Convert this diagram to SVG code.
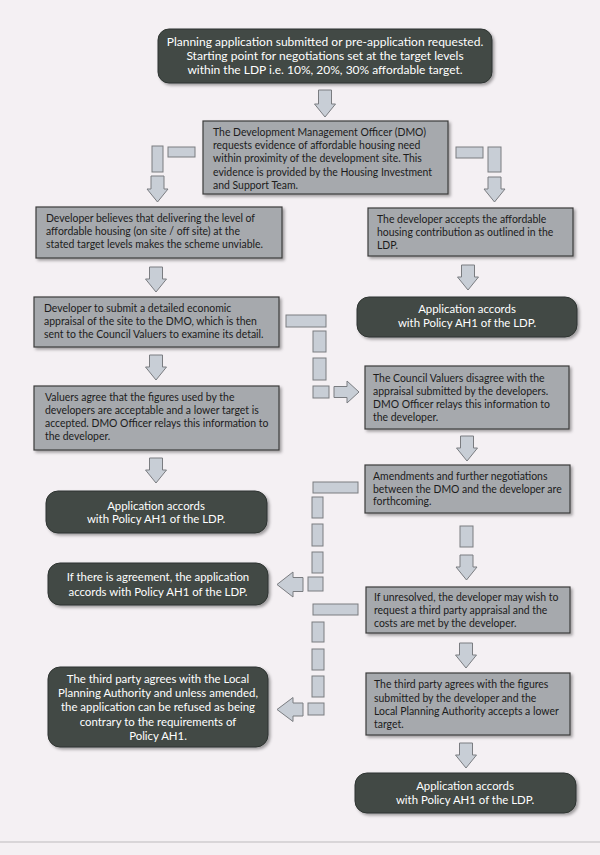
<svg xmlns="http://www.w3.org/2000/svg" width="600" height="855" viewBox="0 0 600 855">
<defs>
<filter id="sh" x="-10%" y="-10%" width="125%" height="130%"><feDropShadow dx="2" dy="2" stdDeviation="1.5" flood-color="#000" flood-opacity="0.35"/></filter>
<style>
.box{fill:#a6a9ad;stroke:#3c3c3c;stroke-width:1.2;filter:url(#sh)}
.dark{fill:#424945;stroke:#2e3431;stroke-width:1;filter:url(#sh)}
.c{fill:#c8ced6;stroke:#7a7c80;stroke-width:1}
text{font-family:Lato,"Liberation Sans",sans-serif}
.t{fill:#1c1c1c;font-size:10.45px}
.w{fill:#ffffff;text-anchor:middle;font-size:11.4px}
.big{font-size:12px}
</style>
</defs>
<rect width="600" height="855" fill="#f4f0f3"/>
<line x1="0" y1="842" x2="600" y2="842" stroke="#bdbabd" stroke-width="1"/>

<g id="connectors">
<path class="c" d="M318.5,90 H331.5 V104 H335.5 L325,117 L314.5,104 H318.5 Z"/>
<rect class="c" x="168" y="147" width="27" height="10"/>
<rect class="c" x="152" y="146" width="11" height="26"/>
<path class="c" d="M151,176 H164 V189 H168 L157.5,202 L147,189 H151 Z"/>
<rect class="c" x="456" y="147" width="27" height="11"/>
<rect class="c" x="488" y="147" width="13" height="25"/>
<path class="c" d="M488,177 H501 V189 H505 L494.5,202 L484,189 H488 Z"/>
<path class="c" d="M149.5,267 H162.5 V279 H166.5 L156,292 L145.5,279 H149.5 Z"/>
<path class="c" d="M149.5,355 H162.5 V367 H166.5 L156,380 L145.5,367 H149.5 Z"/>
<path class="c" d="M149.5,458 H162.5 V470 H166.5 L156,483 L145.5,470 H149.5 Z"/>
<path class="c" d="M461.5,265 H474.5 V277 H478.5 L468,290 L457.5,277 H461.5 Z"/>
<rect class="c" x="286" y="315" width="40" height="12"/>
<rect class="c" x="313" y="331" width="13" height="21"/>
<rect class="c" x="313" y="358" width="13" height="22"/>
<rect class="c" x="313" y="386" width="16" height="12"/>
<path class="c" d="M334,386.5 H347 V381 L359,392 L347,403 V397.5 H334 Z"/>
<path class="c" d="M460.5,436 H473.5 V448 H477.5 L467,461 L456.5,448 H460.5 Z"/>
<rect class="c" x="313" y="482" width="45" height="11"/>
<rect class="c" x="312" y="497" width="11" height="21"/>
<rect class="c" x="312" y="524" width="11" height="22"/>
<rect class="c" x="312" y="552" width="11" height="21"/>
<rect class="c" x="308" y="577" width="15" height="14"/>
<path class="c" d="M303,577.5 H293 V572 L277,584.5 L293,597 V591.5 H303 Z"/>
<rect class="c" x="460" y="526" width="13" height="21"/>
<path class="c" d="M460,555 H473 V567 H477 L466.5,580 L456,567 H460 Z"/>
<rect class="c" x="313" y="604" width="45" height="11"/>
<rect class="c" x="312" y="622" width="12" height="20"/>
<rect class="c" x="312" y="649" width="12" height="21"/>
<rect class="c" x="312" y="676" width="12" height="21"/>
<rect class="c" x="308" y="703" width="16" height="12"/>
<path class="c" d="M303,703 H293 V697.5 L277,709.5 L293,721.5 V716 H303 Z"/>
<path class="c" d="M459.5,643 H472.5 V655 H476.5 L466,668 L455.5,655 H459.5 Z"/>
<path class="c" d="M459.5,743 H472.5 V755 H476.5 L466,768 L455.5,755 H459.5 Z"/>
</g>

<g id="start">
<rect class="dark" x="158" y="29" width="334" height="54" rx="11"/>
<text class="w big" x="325" y="46">Planning application submitted or pre-application requested.</text>
<text class="w big" x="325" y="60">Starting point for negotiations set at the target levels</text>
<text class="w big" x="325" y="74">within the LDP i.e. 10%, 20%, 30% affordable target.</text>
</g>

<g id="dmo">
<rect class="box" x="203" y="121" width="245" height="73"/>
<text class="t" x="213" y="136">The Development Management Officer (DMO)</text>
<text class="t" x="213" y="149">requests evidence of affordable housing need</text>
<text class="t" x="213" y="162">within proximity of the development site. This</text>
<text class="t" x="213" y="176">evidence is provided by the Housing Investment</text>
<text class="t" x="213" y="189">and Support Team.</text>
</g>

<g id="unviable">
<rect class="box" x="36" y="207" width="246" height="51"/>
<text class="t" x="46" y="222">Developer believes that delivering the level of</text>
<text class="t" x="46" y="235">affordable housing (on site / off site) at the</text>
<text class="t" x="46" y="248">stated target levels makes the scheme unviable.</text>
</g>

<g id="accepts">
<rect class="box" x="368" y="208" width="205" height="48"/>
<text class="t" x="377" y="223">The developer accepts the affordable</text>
<text class="t" x="377" y="236">housing contribution as outlined in the</text>
<text class="t" x="377" y="249">LDP.</text>
</g>

<g id="accords1">
<rect class="dark" x="357" y="297" width="220" height="40" rx="12"/>
<text class="w" x="467" y="313">Application accords</text>
<text class="w" x="467" y="327">with Policy AH1 of the LDP.</text>
</g>

<g id="appraisal">
<rect class="box" x="34" y="297" width="245" height="50"/>
<text class="t" x="44" y="312">Developer to submit a detailed economic</text>
<text class="t" x="44" y="325">appraisal of the site to the DMO, which is then</text>
<text class="t" x="44" y="338">sent to the Council Valuers to examine its detail.</text>
</g>

<g id="valuersagree">
<rect class="box" x="34" y="386" width="245" height="64"/>
<text class="t" x="45" y="401">Valuers agree that the figures used by the</text>
<text class="t" x="45" y="414">developers are acceptable and a lower target is</text>
<text class="t" x="45" y="427">accepted. DMO Officer relays this information to</text>
<text class="t" x="45" y="440">the developer.</text>
</g>

<g id="disagree">
<rect class="box" x="365" y="366" width="204" height="63"/>
<text class="t" x="373" y="382">The Council Valuers disagree with the</text>
<text class="t" x="373" y="395">appraisal submitted by the developers.</text>
<text class="t" x="373" y="408">DMO Officer relays this information to</text>
<text class="t" x="373" y="421">the developer.</text>
</g>

<g id="accords2">
<rect class="dark" x="46" y="491" width="221" height="42" rx="12"/>
<text class="w" x="156" y="510">Application accords</text>
<text class="w" x="156" y="523">with Policy AH1 of the LDP.</text>
</g>

<g id="amendments">
<rect class="box" x="365" y="465" width="205" height="48"/>
<text class="t" x="373" y="480">Amendments and further negotiations</text>
<text class="t" x="373" y="493">between the DMO and the developer are</text>
<text class="t" x="373" y="505">forthcoming.</text>
</g>

<g id="agreement">
<rect class="dark" x="48" y="563" width="220" height="42" rx="12"/>
<text class="w" x="158" y="581">If there is agreement, the application</text>
<text class="w" x="158" y="596">accords with Policy AH1 of the LDP.</text>
</g>

<g id="unresolved">
<rect class="box" x="366" y="587" width="204" height="46"/>
<text class="t" x="374" y="601">If unresolved, the developer may wish to</text>
<text class="t" x="374" y="614">request a third party appraisal and the</text>
<text class="t" x="374" y="627">costs are met by the developer.</text>
</g>

<g id="refused">
<rect class="dark" x="48" y="667" width="220" height="80" rx="12"/>
<text class="w" x="158" y="683">The third party agrees with the Local</text>
<text class="w" x="158" y="697">Planning Authority and unless amended,</text>
<text class="w" x="158" y="711">the application can be refused as being</text>
<text class="w" x="158" y="726">contrary to the requirements of</text>
<text class="w" x="158" y="740">Policy AH1.</text>
</g>

<g id="lowertarget">
<rect class="box" x="366" y="673" width="204" height="62"/>
<text class="t" x="374" y="688">The third party agrees with the figures</text>
<text class="t" x="374" y="702">submitted by the developer and the</text>
<text class="t" x="374" y="715">Local Planning Authority accepts a lower</text>
<text class="t" x="374" y="728">target.</text>
</g>

<g id="accords3">
<rect class="dark" x="355" y="773" width="221" height="40" rx="12"/>
<text class="w" x="465" y="790">Application accords</text>
<text class="w" x="465" y="804">with Policy AH1 of the LDP.</text>
</g>
</svg>
